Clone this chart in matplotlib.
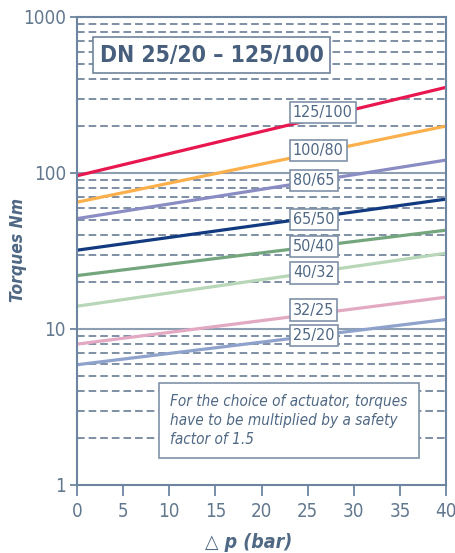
import matplotlib
matplotlib.use('Agg')
import matplotlib.pyplot as plt
from matplotlib.ticker import FixedLocator, NullFormatter, LogLocator

plt.rcParams['font.family'] = ['DejaVu Sans']
plt.rcParams['font.stretch'] = 'condensed'

# torque (Nm) against differential pressure (bar), one line per DN size
dp = [0, 40]
sizes = ['125/100', '100/80', '80/65', '65/50', '50/40', '40/32', '32/25', '25/20']
torques = {
    '125/100': [96, 354],
    '100/80': [65, 200],
    '80/65': [51, 121],
    '65/50': [32, 68],
    '50/40': [22, 43],
    '40/32': [14, 30.6],
    '32/25': [8, 16],
    '25/20': [5.9, 11.5],
}
colours = ['#e8174f', '#fbb04c', '#8a8cc4', '#123a80', '#74a67e', '#b8d6b8', '#e3a8c2', '#8ea2cb']
# where each size tag sits (x in bar, y in Nm)
tag_x = 23.4
tag_y = [245, 140, 89.3, 50.5, 33.7, 22.9, 13.2, 9.11]

txt = '#4f6884'
tick_col = '#62788f'
spine_col = '#6d85a0'

fig = plt.figure(figsize=(4.55, 5.53), dpi=100)
ax = fig.add_axes([77/455, 1 - 485/553, 369/455, 468/553])
ax.set_yscale('log')
ax.set_xlim(0, 40)
ax.set_ylim(1, 1000)

# grid: solid at decades, dashed between
for v in [10, 100]:
    ax.axhline(v, color='#8e9eb2', lw=1.5, zorder=1)
for dec in [1, 10, 100]:
    for m in range(2, 10):
        ax.axhline(dec*m, color='#5b728d', lw=1.1, dashes=(5, 2.6), zorder=1)

for s, c in zip(sizes, colours):
    ax.plot(dp, torques[s], color=c, lw=2.3, zorder=3, solid_capstyle='butt')

for s, y in zip(sizes, tag_y):
    ax.text(tag_x, y, s, fontsize=11.5, color=txt, ha='left', va='center', zorder=5,
            bbox=dict(boxstyle='square,pad=0.2', fc='white', ec='#7f92a8', lw=1.2))

ax.text((211.5 - 77)/369, (485 - 55)/468, 'DN 25/20 \u2013 125/100', transform=ax.transAxes,
        fontsize=16.5, fontweight='bold', color='#475f7d', ha='center', va='center', zorder=5,
        bbox=dict(boxstyle='square,pad=0.28', fc='white', ec='#6f849c', lw=1.2))

ax.text((289 - 77)/369, (485 - 420.5)/468,
        'For the choice of actuator, torques\nhave to be multiplied by a safety\nfactor of 1.5',
        transform=ax.transAxes, fontsize=11, fontstyle='italic', color=txt,
        ha='center', va='center', multialignment='left', linespacing=1.3, zorder=5,
        bbox=dict(boxstyle='square,pad=0.75', fc='white', ec='#7f92a8', lw=1.2))

ax.set_xticks(range(0, 41, 5))
ax.yaxis.set_major_locator(FixedLocator([1, 10, 100, 1000]))
ax.yaxis.set_minor_locator(LogLocator(base=10, subs=range(2, 10)))
ax.yaxis.set_minor_formatter(NullFormatter())
ax.set_yticklabels(['1', '10', '100', '1000'])
ax.tick_params(axis='both', which='major', labelsize=13.5, labelcolor=tick_col,
               color=spine_col, width=1.3, direction='out')
ax.tick_params(axis='x', length=8, pad=4)
ax.tick_params(axis='y', length=5, pad=3)
ax.tick_params(axis='y', which='minor', length=0)
for sp in ax.spines.values():
    sp.set_color(spine_col)
    sp.set_linewidth(1.5)
    sp.set_zorder(6)

fig.text(18/455, 1 - 250/553, 'Torques Nm', rotation=90, fontsize=12.5, fontweight='bold',
         fontstyle='italic', color=txt, ha='center', va='center')
fig.text(249/455, 1 - 542/553, '\u25b3 p (bar)', fontsize=14, fontweight='bold',
         fontstyle='italic', color=txt, ha='center', va='center')

fig.savefig('out.png', dpi=100)
